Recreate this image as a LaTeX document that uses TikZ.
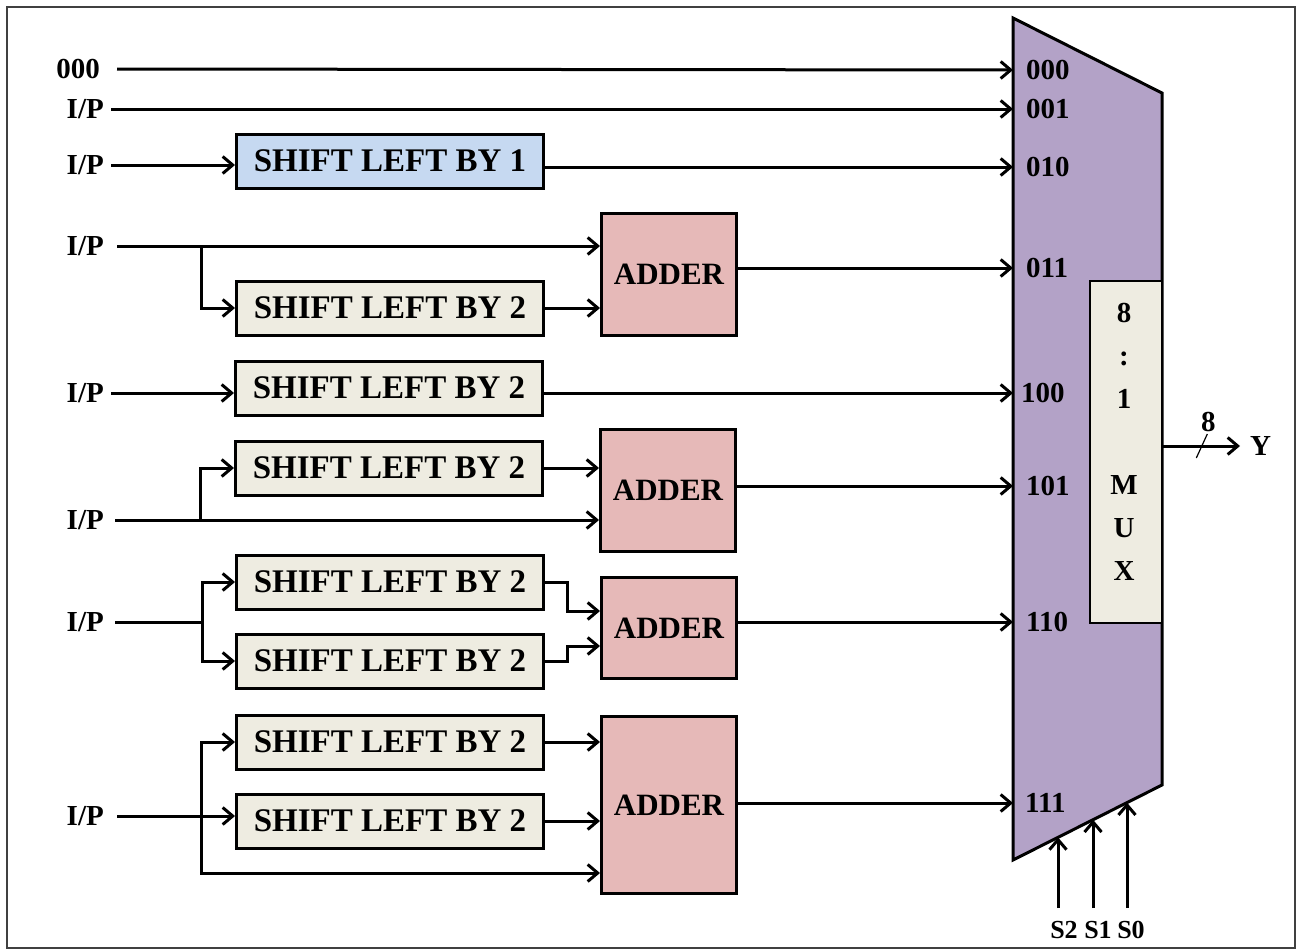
\documentclass[tikz,border=0pt]{standalone}
\usepackage{fontspec}
\setmainfont{Liberation Serif}
\usetikzlibrary{arrows.meta, positioning, calc}
\definecolor{muxLilac}{HTML}{B3A2C7}
\definecolor{shBlue}{HTML}{C6D9F1}
\definecolor{shBeige}{HTML}{EEECE1}
\definecolor{addPink}{HTML}{E6B9B8}
\newcommand{\bigbf}[1]{\fontsize{#1}{#1}\selectfont\bfseries}

\begin{document}
\begin{tikzpicture}[x=1pt, y=-1pt,
  wire/.style={line width=3pt, -{Straight Barb[length=10pt, width=17pt]}},
  lbl/.style={anchor=east, inner xsep=#1, inner ysep=0pt, font=\bigbf{29}},
  lbl/.default=7pt,
  port/.style={inner sep=2pt, font=\bigbf{29}},
  shiftbox/.style={draw, line width=3pt, fill=shBeige, minimum width=307pt,
    minimum height=54pt, inner sep=0pt, font=\bigbf{33}},
  adder/.style={draw, line width=3pt, fill=addPink, minimum width=135pt,
    inner sep=0pt, font=\bigbf{31}},
  sel/.style={inner sep=1pt, font=\bigbf{26}}]
  \useasboundingbox (0,0) rectangle (1298,951);
  \draw[line width=1.6pt, black!75] (7,7) rectangle (1295,948);

  % the multiplexer body and its ports
  \draw[line width=3pt, fill=muxLilac] (1013,18) -- (1162,93)
    -- (1162,785) coordinate (mBR) -- (1013,860) coordinate (mBL) -- cycle;
  \node[draw, line width=1.2pt, fill=shBeige, minimum width=72pt,
    minimum height=342pt] (mb) at (1126,452) {};
  \node[align=center, inner sep=0pt, font=\fontsize{29}{43}\selectfont\bfseries]
    at (1124,442) {8\\:\\1\\[43pt]M\\U\\X};
  \coordinate (p000) at (1013,70);
  \coordinate (p001) at (1013,109);
  \coordinate (p010) at (1013,167);
  \coordinate (p011) at (1013,268);
  \coordinate (p100) at (1013,393);
  \coordinate (p101) at (1013,486);
  \coordinate (p110) at (1013,622);
  \coordinate (p111) at (1013,803);
  \node[port, right=11pt of p000] {000};
  \node[port, right=11pt of p001] {001};
  \node[port, right=11pt of p010] {010};
  \node[port, right=11pt of p011] {011};
  \node[port, right=6pt of p100] {100};
  \node[port, right=11pt of p101] {101};
  \node[port, right=11pt of p110] {110};
  \node[port, right=10pt of p111] {111};

  % inputs
  \node[lbl=17pt] (in0) at (117,69) {000};
  \node[lbl] (in1) at (111,109) {I/P};
  \node[lbl] (in2) at (111,165) {I/P};
  \node[lbl=13pt] (in3) at (117,246) {I/P};
  \node[lbl] (in4) at (111,393) {I/P};
  \node[lbl=11pt] (in5) at (115,520) {I/P};
  \node[lbl=11pt] (in6) at (115,622) {I/P};
  \node[lbl=13pt] (in7) at (117,816) {I/P};

  % shifters and adders
  \node[shiftbox, fill=shBlue] (sh1) at (390,161) {SHIFT LEFT BY 1};
  \node[shiftbox] (sh2) at (390,308) {SHIFT LEFT BY 2};
  \node[shiftbox] (sh3) at (389,388) {SHIFT LEFT BY 2};
  \node[shiftbox] (sh4) at (389,468) {SHIFT LEFT BY 2};
  \node[shiftbox] (sh5) at (390,582) {SHIFT LEFT BY 2};
  \node[shiftbox, below=22pt of sh5] (sh6) {SHIFT LEFT BY 2};
  \node[shiftbox] (sh7) at (390,742) {SHIFT LEFT BY 2};
  \node[shiftbox, below=22pt of sh7] (sh8) {SHIFT LEFT BY 2};
  \node[adder, minimum height=122pt] (add1) at (669,274) {ADDER};
  \node[adder, minimum height=122pt] (add2) at (668,490) {ADDER};
  \node[adder, minimum height=101pt] (add3) at (669,628) {ADDER};
  \node[adder, minimum height=177pt] (add4) at (669,805) {ADDER};
  \coordinate (b3) at (201,246);
  \coordinate (b5) at (200,520);
  \coordinate (b6) at (202,622);
  \coordinate (b7) at (201,816);

  % connections
  \draw[wire] (in0.east) -- (p000);
  \draw[wire] (in1.east) -- (p001);
  \draw[wire] (in2.east) -- (in2.east -| sh1.west);
  \draw[wire] (sh1.east |- p010) -- (p010);

  \draw[wire] (in3.east) -- (in3.east -| add1.west);
  \draw[wire] (b3) |- (sh2.west);
  \draw[wire] (sh2.east) -- (sh2.east -| add1.west);
  \draw[wire] (add1.east |- p011) -- (p011);

  \draw[wire] (in4.east) -- (in4.east -| sh3.west);
  \draw[wire] (sh3.east |- p100) -- (p100);

  \draw[wire] (in5.east) -- (in5.east -| add2.west);
  \draw[wire] (b5) |- (sh4.west);
  \draw[wire] (sh4.east) -- (sh4.east -| add2.west);
  \draw[wire] (add2.east |- p101) -- (p101);

  \draw[line width=3pt] (in6.east) -- (b6);
  \draw[wire] (b6) |- (sh5.west);
  \draw[wire] (b6) |- (sh6.west);
  \draw[wire] (sh5.east) -- ++(22,0) |- ($(add3.west)+(0,-17)$);
  \draw[wire] (sh6.east) -- ++(22,0) |- ($(add3.west)+(0,18)$);
  \draw[wire] (add3.east |- p110) -- (p110);

  \draw[wire] (in7.east) -- (in7.east -| sh8.west);
  \draw[wire] (b7) |- (sh7.west);
  \draw[wire] (b7) |- ($(add4.west)+(0,68)$);
  \draw[wire] (sh7.east) -- (sh7.east -| add4.west);
  \draw[wire] (sh8.east) -- (sh8.east -| add4.west);
  \draw[wire] (add4.east |- p111) -- (p111);

  % output bus
  \node[port, anchor=west, inner xsep=10pt] (yout) at (1240,446) {Y};
  \draw[wire] (mb.east |- yout) -- (yout.west);
  \coordinate (bus) at ($(mb.east |- yout)!0.5!(yout.west)$);
  \draw[line width=1.2pt] ($(bus)+(-5,12)$) -- ($(bus)+(6,-12)$);
  \node[port] at ($(bus)+(7,-24)$) {8};

  % select lines
  \coordinate (sel2) at ($(mBL)!0.302!(mBR)$);
  \coordinate (sel1) at ($(mBL)!0.537!(mBR)$);
  \coordinate (sel0) at ($(mBL)!0.765!(mBR)$);
  \node[sel] (s2) at (1064,930) {S2};
  \node[sel] (s1) at (1098,930) {S1};
  \node[sel] (s0) at (1131,930) {S0};
  \draw[wire] ([yshift=12pt]s2.north -| sel2) -- (sel2);
  \draw[wire] ([yshift=12pt]s1.north -| sel1) -- (sel1);
  \draw[wire] ([yshift=12pt]s0.north -| sel0) -- (sel0);
\end{tikzpicture}
\end{document}
